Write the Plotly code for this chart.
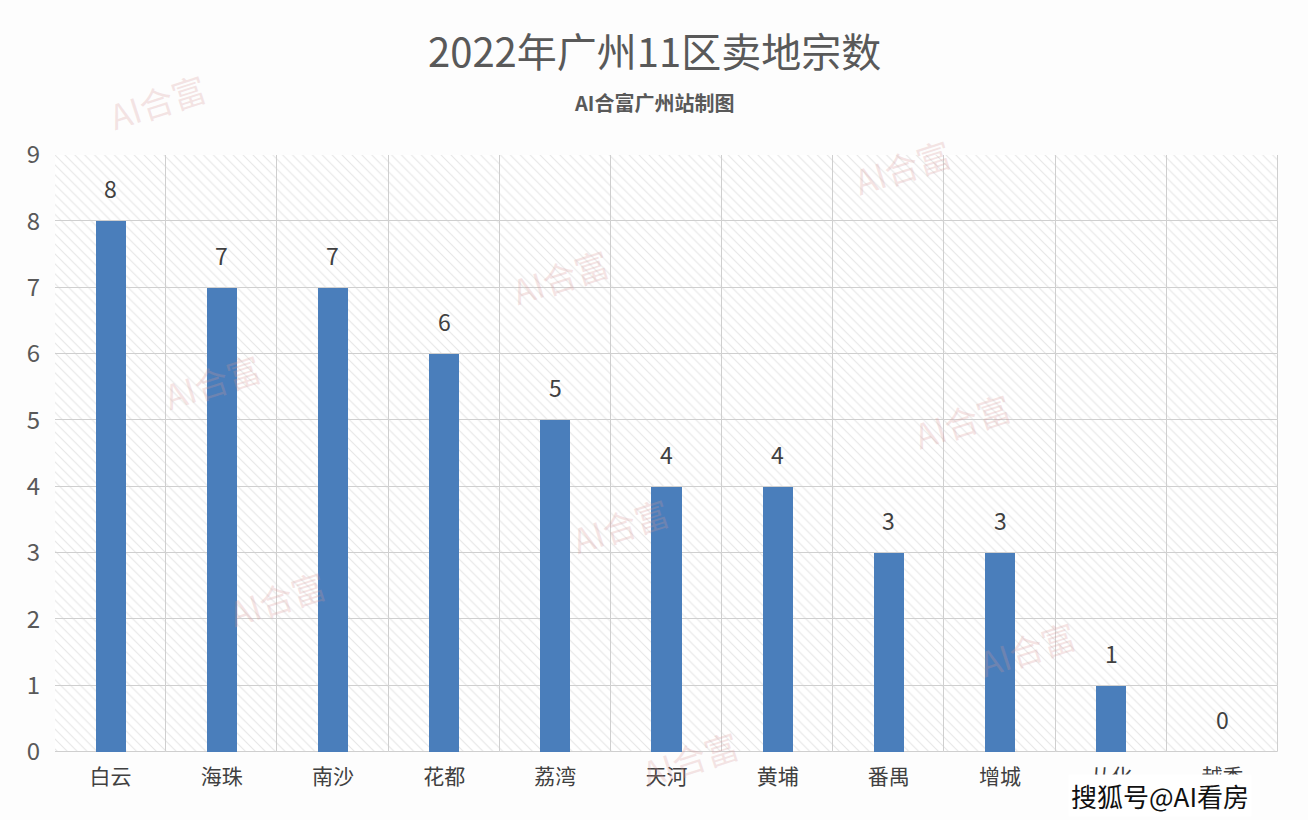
import plotly.graph_objects as go

districts = ["白云", "海珠", "南沙", "花都", "荔湾", "天河", "黄埔", "番禺", "增城", "从化", "越秀"]
land_sales = [8, 7, 7, 6, 5, 4, 4, 3, 3, 1, 0]
y_ticks = [0, 1, 2, 3, 4, 5, 6, 7, 8, 9]

title_text = "2022年广州11区卖地宗数"
subtitle_text = "AI合富广州站制图"
watermark_text = "搜狐号@AI看房"

FONT = "Noto Sans CJK SC, Noto Sans, sans-serif"
y_max = y_ticks[-1]

W, H = 1308, 820
ML, MR, MT, MB = 55, 30, 155, 68
PW, PH = W - ML - MR, H - MT - MB


def px_to_paper(px, py):
    return (px - ML) / PW, (H - MB - py) / PH


fig = go.Figure()

# hatched grid cells (background)
cell_x, cell_base = [], []
for k in y_ticks[:-1]:
    for d in districts:
        cell_x.append(d)
        cell_base.append(k)
fig.add_trace(go.Bar(
    x=cell_x, y=[1] * len(cell_x), base=cell_base, width=1,
    marker=dict(color="white",
                line=dict(color="#cfcfcf", width=1),
                pattern=dict(shape="\\", fgcolor="#cdcdcd", bgcolor="#ffffff",
                             size=7, solidity=0.16)),
    hoverinfo="skip", showlegend=False,
))

fig.add_trace(go.Bar(
    x=districts, y=land_sales, width=0.27,
    marker=dict(color="#4a7ebb", line=dict(width=0)),
    hoverinfo="x+y", showlegend=False,
))

annotations = []
# value labels above bars
for d, v in zip(districts, land_sales):
    annotations.append(dict(x=d, y=v, xref="x", yref="y", text=str(v),
                            showarrow=False, yshift=33, yanchor="middle",
                            font=dict(size=23, color="#404040", family=FONT)))

tx, ty = px_to_paper(654, 50)
annotations.append(dict(text=title_text, x=tx, y=ty, xref="paper", yref="paper",
                        showarrow=False, xanchor="center", yanchor="middle",
                        font=dict(size=40, color="#595959", family=FONT)))
sx, sy = px_to_paper(654, 103)
annotations.append(dict(text="<b>" + subtitle_text + "</b>", x=sx, y=sy,
                        xref="paper", yref="paper", showarrow=False,
                        xanchor="center", yanchor="middle",
                        font=dict(size=20, color="#595959", family=FONT)))

# faint brand watermarks
wm_pos = [(100, 60), (960, 125), (560, 235), (155, 340), (1020, 420),
          (620, 525), (220, 640), (1085, 690), (690, 800)]
for (px, py) in wm_pos:
    ax_, ay_ = px_to_paper(px, py)
    annotations.append(dict(
        text="AI合富", x=ax_, y=ay_, xref="paper", yref="paper",
        showarrow=False, textangle=-18,
        font=dict(size=34, color="rgba(215,150,150,0.25)", family=FONT)))

wx, wy = px_to_paper(1160, 795)
annotations.append(dict(
    text=watermark_text, x=wx, y=wy, xref="paper", yref="paper",
    showarrow=False, xanchor="center", yanchor="middle",
    font=dict(size=26, color="#111111", family=FONT),
    bgcolor="#ffffff", borderpad=2))

fig.update_layout(
    width=W, height=H,
    margin=dict(l=ML, r=MR, t=MT, b=MB, autoexpand=False),
    paper_bgcolor="#fdfdfd", plot_bgcolor="#ffffff",
    barmode="overlay", bargap=0,
    font=dict(family=FONT),
    annotations=annotations,
    xaxis=dict(type="category", categoryorder="array", categoryarray=districts,
               showgrid=False, zeroline=False, showline=False, ticks="",
               automargin=False,
               tickfont=dict(size=21, color="#404040", family=FONT),
               ticklabelstandoff=10),
    yaxis=dict(range=[0, y_max], tickvals=y_ticks, showgrid=False, zeroline=False,
               showline=False, ticks="", automargin=False,
               tickfont=dict(size=24, color="#595959", family=FONT),
               ticklabelstandoff=14),
)

fig.write_html("out.html")
